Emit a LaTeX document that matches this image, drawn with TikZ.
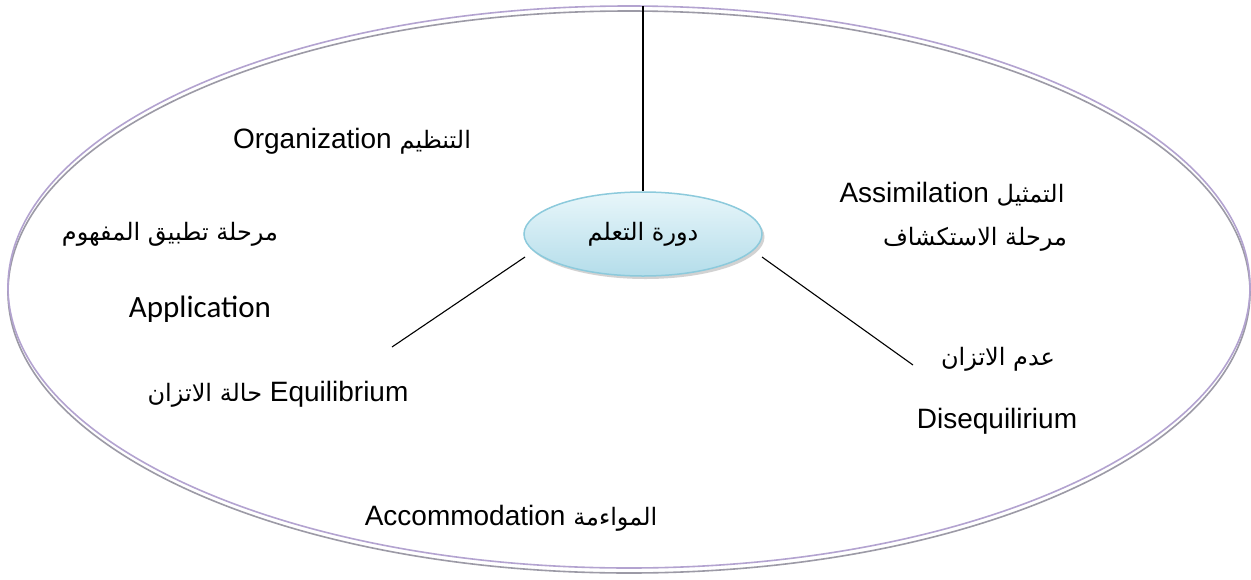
\documentclass[tikz,border=0pt]{standalone}
\usepackage{fontspec}
\setmainfont{Liberation Sans}
\newfontfamily\arabicfont[Script=Arabic]{DejaVu Sans}
\newfontfamily\calfont{Carlito}
\TeXXeTstate=1
\usetikzlibrary{shapes.geometric,shadows}
\definecolor{ringpurple}{HTML}{B3A3D0}
\definecolor{ringgrey}{HTML}{9C9AA6}
\definecolor{cycfillA}{HTML}{E8F6FA}
\definecolor{cycfillB}{HTML}{B4DDEA}
\definecolor{cycborder}{HTML}{8CCADC}
\newcommand{\ar}[1]{{\arabicfont\fontsize{24}{29}\selectfont\beginR #1\endR}}
\begin{document}
\begin{tikzpicture}[x=1pt,y=-1pt,
  lbl/.style={anchor=base, inner sep=0pt, font=\fontsize{28}{34}\selectfont},
  ring/.style={line width=1.6pt},
  conn/.style={draw=black, line width=1.1pt},
  cycbox/.style={ellipse, minimum width=238pt, minimum height=84pt, inner sep=0pt,
    top color=cycfillA, bottom color=cycfillB, draw=cycborder, line width=1.5pt,
    drop shadow={shadow xshift=2.5pt, shadow yshift=-3pt, fill=black!35}}
]
\useasboundingbox (0,0) rectangle (1251,579);
\fill[white] (0,0) rectangle (1251,579);
% outer double ring
\draw[ring, draw=ringgrey] (629,292) ellipse [x radius=621pt, y radius=281pt];
\draw[ring, draw=ringpurple] (629,287) ellipse [x radius=621pt, y radius=281pt];

% centre node
\node[cycbox] (cyc) at (643,234) {\ar{دورة التعلم}};

% connector end points
\coordinate (top) at (643,6);
\coordinate (l1) at (525,257);
\coordinate (l2) at (392,347);
\coordinate (r1) at (762,257);
\coordinate (r2) at (913,365);

\draw[conn] (top) -- (cyc.north);
\draw[conn] (l1) -- (l2);
\draw[conn] (r1) -- (r2);

% labels
\node[lbl] (org) at (352,148) {Organization \ar{التنظيم}};
\node[lbl] (appar) at (170,240) {\ar{مرحلة تطبيق المفهوم}};
\node[lbl, font=\calfont\fontsize{31}{36}\selectfont] (app) at (200,317) {Application};
\node[lbl] (equ) at (278,401) {\ar{حالة الاتزان} Equilibrium};
\node[lbl] (ass) at (952,202) {Assimilation \ar{التمثيل}};
\node[lbl] (exp) at (975,245) {\ar{مرحلة الاستكشاف}};
\node[lbl] (diseqar) at (998,365) {\ar{عدم الاتزان}};
\node[lbl] (diseq) at (997,428) {Disequilirium};
\node[lbl] (acc) at (511,525) {Accommodation \ar{المواءمة}};
\end{tikzpicture}
\end{document}
